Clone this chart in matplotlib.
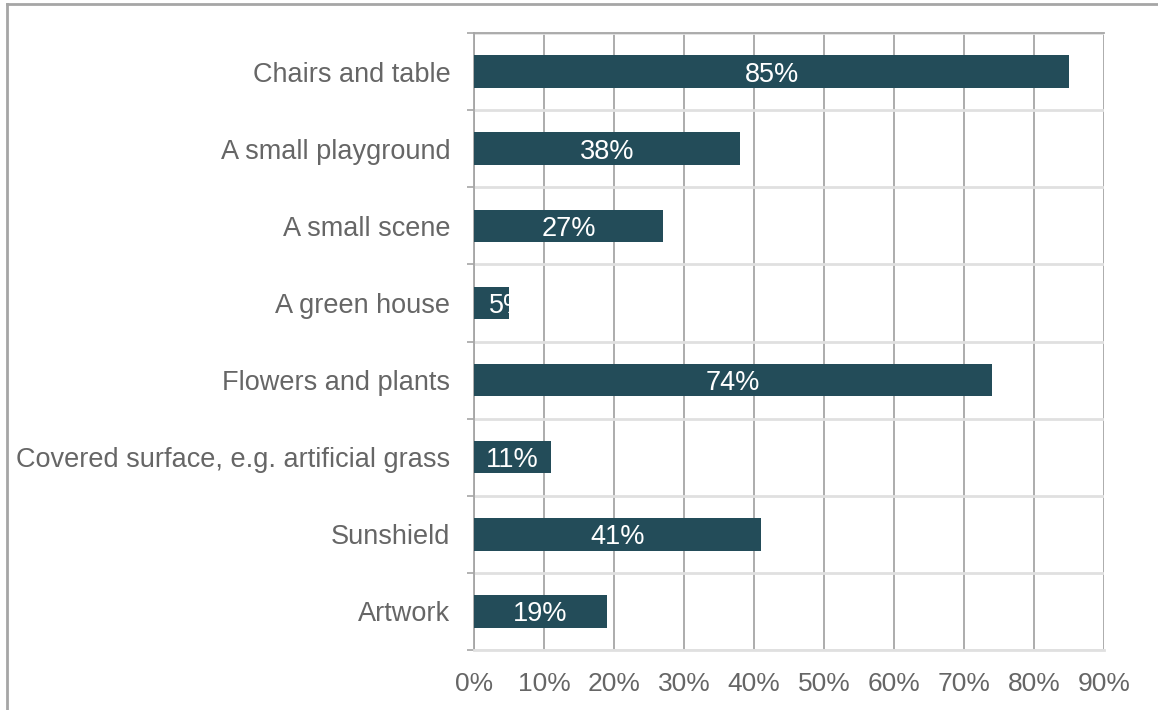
'''
Horizontal bar chart of preferred courtyard features.
'''

import matplotlib
matplotlib.use('Agg')
import matplotlib.pyplot as plt
import numpy as np
from matplotlib.lines import Line2D
from matplotlib.ticker import FixedLocator, PercentFormatter

plt.rcParams['font.family'] = ['Liberation Sans', 'DejaVu Sans']

categories = ['Chairs and table', 'A small playground', 'A small scene',
              'A green house', 'Flowers and plants',
              'Covered surface, e.g. artificial grass', 'Sunshield', 'Artwork']
values = [85, 38, 27, 5, 74, 11, 41, 19]
xticks = list(range(0, 100, 10))

bar_color = '#234c59'
text_color = '#666666'
dark_grid = '#a6a6a6'
light_grid = '#e0e0e0'

fig = plt.figure(figsize=(11.58, 7.10), dpi=100)
ax = fig.add_axes([474 / 1158, 1 - 650 / 710, 630 / 1158, 617 / 710])

y = np.arange(len(categories))
bars = ax.barh(y, values, height=0.42, color=bar_color, zorder=3)

# value labels, clipped to the bar like the original
for bar, v in zip(bars, values):
    cy = bar.get_y() + bar.get_height() / 2
    if v < 8:
        t = ax.text(v / 2 - 0.3, cy, '%d%%' % v, ha='left', va='center_baseline',
                    color='white', fontsize=19.5, zorder=4)
    else:
        t = ax.text(v / 2, cy, '%d%%' % v, ha='center', va='center_baseline',
                    color='white', fontsize=19.5, zorder=4)
    t.set_clip_path(bar)

ax.set_xlim(0, 90)
ax.set_ylim(len(categories) - 0.5, -0.5)

ax.xaxis.set_major_locator(FixedLocator(xticks))
ax.xaxis.set_major_formatter(PercentFormatter(decimals=0))
ax.set_yticks(y)
ax.set_yticklabels(categories)
ax.yaxis.set_minor_locator(FixedLocator(np.arange(-0.5, len(categories), 1.0)))

ax.tick_params(axis='x', which='major', length=0, pad=16, labelsize=19,
               labelcolor=text_color)
ax.tick_params(axis='y', which='major', length=0, pad=17, labelsize=19.5,
               labelcolor=text_color)
ax.tick_params(axis='y', which='minor', length=5, width=1.2, color=dark_grid)

ax.grid(axis='x', which='major', color=dark_grid, linewidth=1.3, zorder=1)
ax.grid(axis='y', which='minor', color=light_grid, linewidth=2, zorder=1)

for side in ['left', 'top']:
    ax.spines[side].set_color(dark_grid)
    ax.spines[side].set_linewidth(1.3)
ax.spines['bottom'].set_color(light_grid)
ax.spines['bottom'].set_linewidth(2)
ax.spines['right'].set_visible(False)
for s in ax.spines.values():
    s.set_zorder(2)

# outer chart frame (only top and left edges are visible)
fig.add_artist(Line2D([7 / 1158, 7 / 1158], [0, 1 - 4 / 710],
                      transform=fig.transFigure, color=dark_grid, linewidth=2))
fig.add_artist(Line2D([7 / 1158, 1], [1 - 4 / 710, 1 - 4 / 710],
                      transform=fig.transFigure, color=dark_grid, linewidth=2))

fig.savefig('out.png', dpi=100)
